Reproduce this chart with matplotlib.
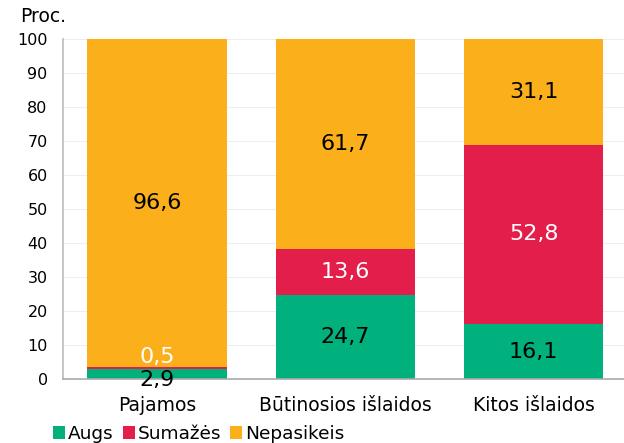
import numpy as np
import matplotlib
matplotlib.use("Agg")
import matplotlib.pyplot as plt

categories = ["Pajamos", "Būtinosios išlaidos", "Kitos išlaidos"]
augs = [2.9, 24.7, 16.1]
sumazes = [0.5, 13.6, 52.8]
nepasikeis = [96.6, 61.7, 31.1]
series_names = ["Augs", "Sumažės", "Nepasikeis"]
colors = ["#00B07D", "#E31E4B", "#FBAF1A"]
label_colors = ["black", "white", "black"]

plt.rcParams['font.family'] = ['DejaVu Sans']

fig = plt.figure(figsize=(6.24, 4.43), dpi=100)
ax = fig.add_axes([0.101, 0.1445, 0.905, 0.7675])

x = np.arange(len(categories))
bottom = np.zeros(len(categories))
handles = []
for vals, name, col, lc in zip([augs, sumazes, nepasikeis], series_names, colors, label_colors):
    vals = np.array(vals)
    b = ax.bar(x, vals, 0.74, bottom=bottom, color=col, label=name, zorder=2)
    handles.append(b)
    for xi, v, bt in zip(x, vals, bottom):
        dy = 0
        if v < 1:
            dy = 8
        elif v < 5:
            dy = -4
        ax.annotate(f"{v:.1f}".replace(".", ","), (xi, bt + v / 2), xytext=(0, dy),
                    textcoords="offset points", ha="center", va="center",
                    fontsize=16, color=lc, zorder=3)
    bottom += vals

ax.set_ylim(0, 100)
ax.set_xlim(-0.5, 2.5)
ax.set_yticks(range(0, 101, 10))
ax.set_xticks(x)
ax.set_xticklabels(categories, fontsize=13.5)
ax.tick_params(axis='y', labelsize=11.5, length=0, pad=11)
ax.tick_params(axis='x', length=0, pad=12.5)
ax.grid(axis='y', color='#EEEEEE', linewidth=0.8, zorder=0)
for s in ['top', 'right']:
    ax.spines[s].set_visible(False)
ax.spines['left'].set_color('#BBBBBB')
ax.spines['bottom'].set_color('#AAAAAA')
ax.spines['left'].set_linewidth(1.2)
ax.spines['bottom'].set_linewidth(1.2)

fig.text(0.032, 0.962, "Proc.", fontsize=13.5, ha="left", va="center")

leg = fig.legend(handles, series_names, loc="center left", bbox_to_anchor=(0.085, 0.02),
                 ncol=3, frameon=False, fontsize=13.3, handlelength=0.65, handleheight=0.65,
                 handletextpad=0.15, columnspacing=0.5, borderpad=0, borderaxespad=0)

fig.savefig("out.png", dpi=100)
